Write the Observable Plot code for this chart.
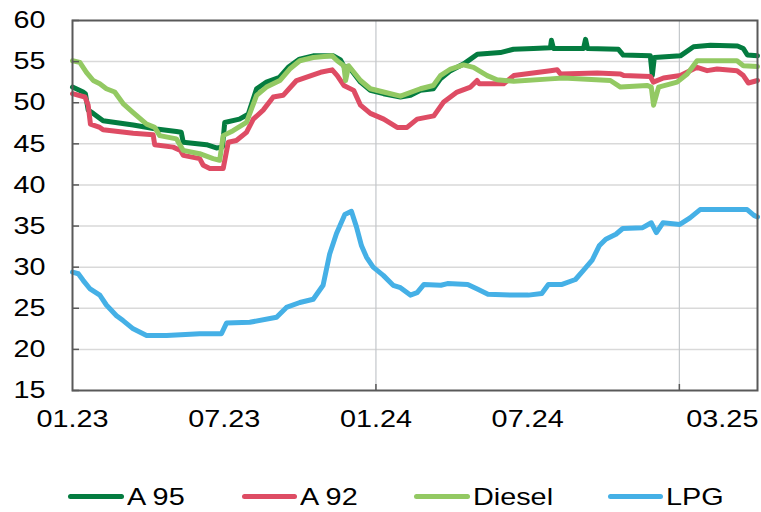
<!DOCTYPE html>
<html>
<head>
<meta charset="utf-8">
<script src="https://cdn.jsdelivr.net/npm/d3@7"></script>
<script src="https://cdn.jsdelivr.net/npm/@observablehq/plot@0.6"></script>
<style>
  html, body { margin: 0; padding: 0; background: #fff; }
  #wrap { position: relative; width: 761px; height: 512px; overflow: hidden; font-family: "Liberation Sans", Arial, sans-serif; }
  #legend { position: absolute; left: 0; top: 460px; width: 761px; height: 52px; }
  .item { position: absolute; top: 0; height: 52px; }
  .sw { position: absolute; top: 34px; height: 5px; border-radius: 3px; }
  .lab { position: absolute; top: 23px; font-size: 24px; line-height: 28px; color: #000; transform: scaleX(1.2); transform-origin: left center; white-space: nowrap; }
</style>
</head>
<body>
<div id="wrap"><div id="chart"></div><div id="legend"></div></div>
<script>
// x values are months since 01.2023
const yTicks = [15, 20, 25, 30, 35, 40, 45, 50, 55, 60];
const xLabelPos = [0, 6, 12, 18, 25.7];
const xLabels = ["01.23", "07.23", "01.24", "07.24", "03.25"];
const xGrid = [12, 24];
const seriesNames = ["A 95", "A 92", "Diesel", "LPG"];
const seriesColors = ["#047c40", "#de4c64", "#93c963", "#45b0e6"];

const a95 = [[0,51.9],[0.42,51.3],[0.51,51.1],[0.62,49.1],[0.82,48.7],[1.21,47.8],[2.40,47.3],[3.32,46.8],[4.11,46.5],[4.30,46.4],[4.38,45.2],[5.30,44.9],[5.69,44.5],[5.93,44.6],[6.02,47.6],[6.60,48.0],[6.95,48.6],[7.28,51.7],[7.67,52.5],[8.19,53.1],[8.53,54.3],[8.98,55.3],[9.52,55.7],[10.32,55.7],[10.60,55.2],[10.72,54.5],[10.99,54.1],[11.39,52.5],[11.78,51.5],[12.30,51.1],[12.97,50.7],[13.37,50.9],[13.76,51.5],[14.27,51.7],[14.55,52.9],[14.95,53.9],[15.46,54.7],[15.74,55.3],[16.01,55.9],[16.92,56.1],[17.44,56.5],[18.23,56.6],[18.90,56.7],[18.94,57.6],[19.02,56.6],[20.21,56.6],[20.29,57.7],[20.37,56.6],[21.59,56.5],[21.78,55.8],[22.85,55.7],[22.93,53.3],[23.01,55.5],[24.04,55.7],[24.56,56.8],[25.23,57.0],[26.30,56.9],[26.53,56.6],[26.69,55.8],[27.09,55.7]];

const a92 = [[0,51.1],[0.49,50.7],[0.62,49.7],[0.71,47.4],[1.08,47.0],[1.21,46.7],[2.40,46.3],[3.19,46.1],[3.25,44.9],[3.98,44.6],[4.27,44.2],[4.38,43.6],[5.03,43.2],[5.17,42.4],[5.43,42.0],[5.96,42.0],[6.16,45.2],[6.48,45.4],[6.88,46.4],[7.15,48.0],[7.54,49.1],[7.94,50.7],[8.33,50.9],[8.86,52.7],[9.52,53.4],[9.81,53.7],[10.27,54.0],[10.47,53.3],[10.73,52.1],[11.12,51.5],[11.39,49.7],[11.78,48.7],[12.31,48.0],[12.84,47.0],[13.23,47.0],[13.63,48.0],[14.29,48.4],[14.68,50.1],[15.21,51.3],[15.74,51.9],[16.00,52.7],[16.09,52.3],[17.05,52.3],[17.45,53.3],[18.90,53.9],[19.17,54.0],[19.30,53.5],[20.75,53.6],[21.67,53.5],[21.80,53.3],[22.85,53.2],[22.97,52.5],[23.37,53.0],[24.04,53.3],[24.70,54.3],[25.10,53.9],[25.49,54.1],[26.28,53.9],[26.53,53.3],[26.73,52.4],[27.09,52.7]];

const diesel = [[0,55.1],[0.29,54.9],[0.55,53.7],[0.82,52.7],[1.08,52.3],[1.34,51.7],[1.67,51.3],[2.00,49.9],[2.40,48.8],[2.93,47.4],[3.25,47.0],[3.45,46.0],[4.11,45.6],[4.38,44.2],[5.03,43.8],[5.56,43.2],[5.82,43.0],[5.96,46.0],[6.35,46.6],[6.88,47.6],[7.28,50.9],[7.67,51.9],[8.20,52.7],[8.59,54.1],[8.99,55.1],[9.52,55.5],[10.27,55.7],[10.47,55.1],[10.73,54.5],[10.80,52.7],[10.92,54.5],[11.39,52.7],[11.78,51.7],[12.30,51.3],[12.97,50.8],[13.76,51.7],[14.27,52.1],[14.55,53.3],[14.95,54.1],[15.46,54.6],[15.86,54.3],[16.40,53.3],[16.79,52.8],[17.45,52.6],[18.90,52.9],[19.41,53.0],[21.27,52.7],[21.67,51.9],[22.72,52.1],[22.89,51.9],[22.98,49.7],[23.18,51.9],[23.91,52.5],[24.31,53.5],[24.70,55.1],[26.28,55.1],[26.53,54.5],[27.09,54.4]];

const lpg = [[0,29.4],[0.23,29.2],[0.42,28.4],[0.68,27.4],[1.08,26.6],[1.34,25.4],[1.74,24.1],[2.00,23.5],[2.40,22.5],[2.93,21.7],[3.72,21.7],[5.03,21.9],[5.89,21.9],[6.09,23.2],[7.01,23.3],[8.07,23.9],[8.46,25.1],[8.99,25.7],[9.52,26.1],[9.91,27.8],[10.17,31.6],[10.44,34.1],[10.77,36.4],[11.03,36.8],[11.23,34.9],[11.43,32.6],[11.63,31.2],[11.89,30.0],[12.29,29.0],[12.68,27.8],[12.97,27.5],[13.36,26.6],[13.63,26.9],[13.90,27.9],[14.57,27.8],[14.83,28.0],[15.63,27.9],[16.03,27.3],[16.43,26.7],[17.36,26.6],[18.03,26.6],[18.56,26.8],[18.82,27.9],[19.36,27.9],[19.89,28.5],[20.23,29.7],[20.56,30.9],[20.83,32.6],[21.09,33.4],[21.49,34.0],[21.76,34.7],[22.55,34.8],[22.89,35.4],[23.09,34.2],[23.35,35.4],[24.02,35.2],[24.42,36.0],[24.82,37.0],[26.68,37.0],[26.95,36.3],[27.09,36.1]];

const seriesData = [a95, a92, diesel, lpg];

const W = 761, H = 460, mL = 72, mR = 4, mT = 20, mB = 70;
const plotW = W - mL - mR, plotH = H - mT - mB;

const lineMarks = seriesData.map((d, i) =>
  Plot.line(d, {x: p => p[0], y: p => p[1], stroke: seriesColors[i], strokeWidth: 5, strokeLinejoin: "round", strokeLinecap: "round"})
);

const chart = Plot.plot({
  width: W, height: H,
  marginLeft: mL, marginRight: mR, marginTop: mT, marginBottom: mB,
  style: {fontFamily: "'Liberation Sans', Arial, sans-serif", fontSize: "24px", color: "#000", background: "#fff"},
  x: {domain: [0, 27.09], axis: null},
  y: {domain: [15, 60], axis: null},
  marks: [
    Plot.ruleY(yTicks.slice(1, -1), {stroke: "#d9d9d9", strokeWidth: 1.5}),
    Plot.ruleX(xGrid, {stroke: "#c3c7cb", strokeWidth: 1.2}),
    ...lineMarks,
    Plot.frame({stroke: "#595959", strokeWidth: 2}),
    Plot.tickY(yTicks, {y: d => d, stroke: "#595959", strokeWidth: 1.5, insetRight: plotW - 7}),
    Plot.tickX(xGrid, {x: d => d, stroke: "#595959", strokeWidth: 1.5, insetTop: plotH - 6}),
    Plot.text(yTicks, {y: d => d, text: d => String(d), frameAnchor: "left", textAnchor: "end", dx: -27, fill: "#000"}),
    Plot.text(xLabelPos, {x: d => d, text: (d, i) => xLabels[i], frameAnchor: "bottom", dy: 36, fill: "#000"})
  ]
});
document.getElementById("chart").appendChild(chart);

// widen glyphs horizontally, as in the reference
chart.querySelectorAll("text").forEach(t => {
  const L = t.getComputedTextLength();
  if (L > 0) {
    t.setAttribute("textLength", (L * 1.2).toFixed(1));
    t.setAttribute("lengthAdjust", "spacingAndGlyphs");
  }
});

// legend
const legendPos = [[68, 127], [242, 300], [414, 473], [608, 666]];
const legend = document.getElementById("legend");
seriesNames.forEach((name, i) => {
  const sw = document.createElement("div");
  sw.className = "sw";
  sw.style.left = legendPos[i][0] + "px";
  sw.style.width = (legendPos[i][1] - legendPos[i][0] - 3) + "px";
  sw.style.background = seriesColors[i];
  legend.appendChild(sw);
  const lab = document.createElement("div");
  lab.className = "lab";
  lab.style.left = legendPos[i][1] + "px";
  lab.textContent = name;
  legend.appendChild(lab);
});
</script>
</body>
</html>
